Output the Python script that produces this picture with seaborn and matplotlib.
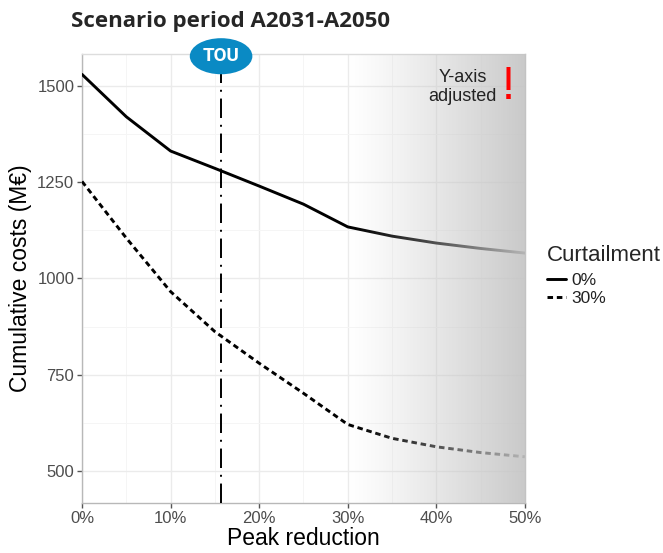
import matplotlib

matplotlib.use("Agg")

import matplotlib.pyplot as plt
import numpy as np
import pandas as pd
import seaborn as sns
from matplotlib.lines import Line2D
from matplotlib.ticker import FuncFormatter, MultipleLocator


PEAK_REDUCTION = [0, 5, 10, 15, 20, 25, 30, 35, 40, 45, 50]
COST_CURTAIL_0 = [1530, 1420, 1331, 1286, 1240, 1193, 1134, 1110, 1092, 1078, 1066]
COST_CURTAIL_30 = [1252, 1105, 966, 862, 780, 702, 621, 585, 563, 548, 537]
CURTAILMENT_LABELS = ["0%", "30%"]
TOU_POSITION = 15.7

TEXT_GREY = "#4d4d4d"
FRAME_GREY = "#b8b8b8"
DASHED = (1.9, 1.3)


def build_frame() -> pd.DataFrame:
    parts = []
    for label, values in zip(CURTAILMENT_LABELS, [COST_CURTAIL_0, COST_CURTAIL_30]):
        parts.append(pd.DataFrame({"peak": PEAK_REDUCTION, "cost": values, "Curtailment": label}))
    return pd.concat(parts, ignore_index=True)


def main() -> None:
    sns.set_style("white")
    plt.rcParams["font.family"] = ["Liberation Sans", "DejaVu Sans"]

    df = build_frame()
    fig = plt.figure(figsize=(6.63, 5.53), dpi=100)
    ax = fig.add_axes([0.1237, 0.0904, 0.668, 0.812])

    sns.lineplot(
        data=df,
        x="peak",
        y="cost",
        style="Curtailment",
        style_order=CURTAILMENT_LABELS,
        dashes={"0%": "", "30%": DASHED},
        color="black",
        linewidth=2.1,
        legend=False,
        ax=ax,
        zorder=3,
    )

    ax.axvline(TOU_POSITION, color="black", linewidth=1.4, dashes=(10, 3.5, 1, 3.5), zorder=3)

    # shaded "Y-axis adjusted" region drawn over the lines so they fade out
    grad = np.linspace(0, 1, 256) ** 1.15
    rgba = np.zeros((1, 256, 4))
    rgba[..., :3] = 0.775
    rgba[..., 3] = grad * 0.93
    ax.imshow(rgba, extent=[30, 50, 417, 1583], aspect="auto", zorder=4, interpolation="bilinear")
    ax.set_xlim(0, 50)
    ax.set_ylim(417, 1583)

    ax.xaxis.set_major_locator(MultipleLocator(10))
    ax.xaxis.set_minor_locator(MultipleLocator(5))
    ax.yaxis.set_major_locator(MultipleLocator(250))
    ax.yaxis.set_minor_locator(MultipleLocator(125))
    ax.xaxis.set_major_formatter(FuncFormatter(lambda v, _: f"{v:.0f}%"))
    ax.yaxis.set_major_formatter(FuncFormatter(lambda v, _: f"{v:.0f}"))
    ax.grid(which="major", color="#ebebeb", linewidth=1.0)
    ax.grid(which="minor", color="#f5f5f5", linewidth=0.7)
    ax.set_axisbelow(True)

    ax.tick_params(which="major", direction="out", length=3.5, width=1.0, color="#555555",
                   labelsize=12, labelcolor=TEXT_GREY, pad=2, bottom=True, left=True)
    ax.tick_params(which="minor", length=0)
    for side in ["left", "bottom", "right", "top"]:
        ax.spines[side].set_color(FRAME_GREY)
        ax.spines[side].set_linewidth(1.0)
    ax.spines["top"].set_color("#dddddd")

    ax.set_xlabel("Peak reduction", fontsize=16.5, color="black", labelpad=1)
    ax.set_ylabel("Cumulative costs (M€)", fontsize=16.5, color="black", labelpad=4)

    ax.text(0.86, 0.966, "Y-axis\nadjusted", transform=ax.transAxes, ha="center", va="top",
            multialignment="center", fontsize=13, color="#222222", linespacing=1.15, zorder=5)
    ax.text(0.962, 0.975, "!", transform=ax.transAxes, ha="center", va="top",
            fontsize=34, color="red", zorder=5)

    ax.annotate("TOU", xy=(TOU_POSITION, 0.995), xycoords=("data", "axes fraction"),
                ha="center", va="center", fontsize=13.5, fontweight="bold", color="white",
                fontfamily="Roboto",
                bbox=dict(boxstyle="ellipse,pad=0.2", facecolor="#0a8ac4", edgecolor="none"),
                annotation_clip=False, zorder=6)

    fig.text(0.107, 0.961, "Scenario period A2031-A2050", fontsize=16, fontweight="bold",
             fontfamily="Open Sans", ha="left", va="center")

    handles = [
        Line2D([], [], color="black", linewidth=2.1),
        Line2D([], [], color="black", linewidth=2.1, dashes=DASHED),
    ]
    leg = fig.legend(handles, CURTAILMENT_LABELS, title="Curtailment", loc="upper left",
                     bbox_to_anchor=(0.814, 0.57), frameon=False, fontsize=12.5,
                     title_fontsize=16, handlelength=1.1, handletextpad=0.35,
                     labelspacing=0.15, borderaxespad=0)
    leg._legend_box.align = "left"
    leg._legend_box.sep = 5
    for t in leg.get_texts():
        t.set_color("#222222")

    fig.savefig("out.png", dpi=100)
    plt.close(fig)


if __name__ == "__main__":
    main()
